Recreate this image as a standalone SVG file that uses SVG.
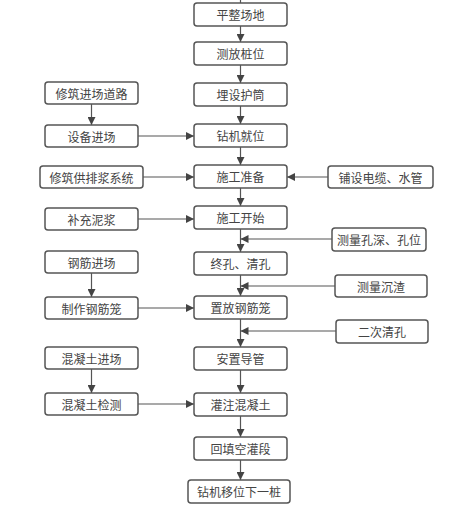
<svg xmlns="http://www.w3.org/2000/svg" width="450" height="514" viewBox="0 0 450 514">
<style>
.b{fill:#fff;stroke:#555;stroke-width:1.5}
.t{font-family:"Noto Sans CJK SC","Noto Sans",sans-serif;font-size:12px;fill:#444;text-anchor:middle;dominant-baseline:central}
.c{fill:none;stroke:#555;stroke-width:1.2}
</style>
<defs>
<marker id="a" viewBox="0 0 10 10" refX="10" refY="5" markerWidth="8" markerHeight="8" markerUnits="userSpaceOnUse" orient="auto">
<path d="M0,0 L10,5 L0,10 z" fill="#444"/>
</marker>
</defs>
<rect width="450" height="514" fill="#fff"/>
<g id="connectors">
<path class="c" d="M240.5,0 V3"/>
<path class="c" d="M240.5,26 V42" marker-end="url(#a)"/>
<path class="c" d="M240.5,65 V83" marker-end="url(#a)"/>
<path class="c" d="M240.5,106 V124" marker-end="url(#a)"/>
<path class="c" d="M240.5,147 V165" marker-end="url(#a)"/>
<path class="c" d="M240.5,188 V206" marker-end="url(#a)"/>
<path class="c" d="M240.5,229 V252" marker-end="url(#a)"/>
<path class="c" d="M240.5,275 V296" marker-end="url(#a)"/>
<path class="c" d="M240.5,319 V347" marker-end="url(#a)"/>
<path class="c" d="M240.5,370 V393" marker-end="url(#a)"/>
<path class="c" d="M240.5,416 V437" marker-end="url(#a)"/>
<path class="c" d="M240.5,460 V480" marker-end="url(#a)"/>
<path class="c" d="M91.5,104 V125" marker-end="url(#a)"/>
<path class="c" d="M91.5,273 V297" marker-end="url(#a)"/>
<path class="c" d="M91.5,369 V393" marker-end="url(#a)"/>
<path class="c" d="M138,136 H194" marker-end="url(#a)"/>
<path class="c" d="M143,177 H194" marker-end="url(#a)"/>
<path class="c" d="M138,219 H194" marker-end="url(#a)"/>
<path class="c" d="M138,308 H194" marker-end="url(#a)"/>
<path class="c" d="M138,404 H194" marker-end="url(#a)"/>
<path class="c" d="M328,177 H287" marker-end="url(#a)"/>
<path class="c" d="M332,239 H240.5" marker-end="url(#a)"/>
<path class="c" d="M335,286 H240.5" marker-end="url(#a)"/>
<path class="c" d="M336,331 H240.5" marker-end="url(#a)"/>
</g>
<g id="n1"><rect class="b" x="194" y="3" width="93" height="23" rx="3"/><text class="t" x="240.5" y="14.5">平整场地</text></g>
<g id="n2"><rect class="b" x="194" y="42" width="93" height="23" rx="3"/><text class="t" x="240.5" y="53.5">测放桩位</text></g>
<g id="n3"><rect class="b" x="194" y="83" width="93" height="23" rx="3"/><text class="t" x="240.5" y="94.5">埋设护筒</text></g>
<g id="n4"><rect class="b" x="194" y="124" width="93" height="23" rx="3"/><text class="t" x="240.5" y="135.5">钻机就位</text></g>
<g id="n5"><rect class="b" x="194" y="165" width="93" height="23" rx="3"/><text class="t" x="240.5" y="176.5">施工准备</text></g>
<g id="n6"><rect class="b" x="194" y="206" width="93" height="23" rx="3"/><text class="t" x="240.5" y="217.5">施工开始</text></g>
<g id="n7"><rect class="b" x="194" y="252" width="93" height="23" rx="3"/><text class="t" x="240.5" y="263.5">终孔、清孔</text></g>
<g id="n8"><rect class="b" x="194" y="296" width="93" height="23" rx="3"/><text class="t" x="240.5" y="307.5">置放钢筋笼</text></g>
<g id="n9"><rect class="b" x="194" y="347" width="93" height="23" rx="3"/><text class="t" x="240.5" y="358.5">安置导管</text></g>
<g id="n10"><rect class="b" x="194" y="393" width="93" height="23" rx="3"/><text class="t" x="240.5" y="404.5">灌注混凝土</text></g>
<g id="n11"><rect class="b" x="194" y="437" width="93" height="23" rx="3"/><text class="t" x="240.5" y="448.5">回填空灌段</text></g>
<g id="n12"><rect class="b" x="188" y="480" width="102" height="23" rx="3"/><text class="t" x="239" y="491.5">钻机移位下一桩</text></g>
<g id="l1"><rect class="b" x="45" y="82" width="93" height="22" rx="3"/><text class="t" x="91.5" y="93">修筑进场道路</text></g>
<g id="l2"><rect class="b" x="45" y="125" width="93" height="22" rx="3"/><text class="t" x="91.5" y="136">设备进场</text></g>
<g id="l3"><rect class="b" x="40" y="166" width="103" height="22" rx="3"/><text class="t" x="91.5" y="177">修筑供排浆系统</text></g>
<g id="l4"><rect class="b" x="45" y="208" width="93" height="22" rx="3"/><text class="t" x="91.5" y="219">补充泥浆</text></g>
<g id="l5"><rect class="b" x="45" y="251" width="93" height="22" rx="3"/><text class="t" x="91.5" y="262">钢筋进场</text></g>
<g id="l6"><rect class="b" x="45" y="297" width="93" height="22" rx="3"/><text class="t" x="91.5" y="308">制作钢筋笼</text></g>
<g id="l7"><rect class="b" x="45" y="347" width="93" height="22" rx="3"/><text class="t" x="91.5" y="358">混凝土进场</text></g>
<g id="l8"><rect class="b" x="45" y="393" width="93" height="22" rx="3"/><text class="t" x="91.5" y="404">混凝土检测</text></g>
<g id="r1"><rect class="b" x="328" y="166" width="105" height="22" rx="3"/><text class="t" x="380.5" y="177">铺设电缆、水管</text></g>
<g id="r2"><rect class="b" x="332" y="228" width="94" height="23" rx="3"/><text class="t" x="379" y="239.5">测量孔深、孔位</text></g>
<g id="r3"><rect class="b" x="335" y="275" width="92" height="22" rx="3"/><text class="t" x="381" y="286">测量沉渣</text></g>
<g id="r4"><rect class="b" x="336" y="320" width="92" height="23" rx="3"/><text class="t" x="382" y="331.5">二次清孔</text></g>
</svg>
